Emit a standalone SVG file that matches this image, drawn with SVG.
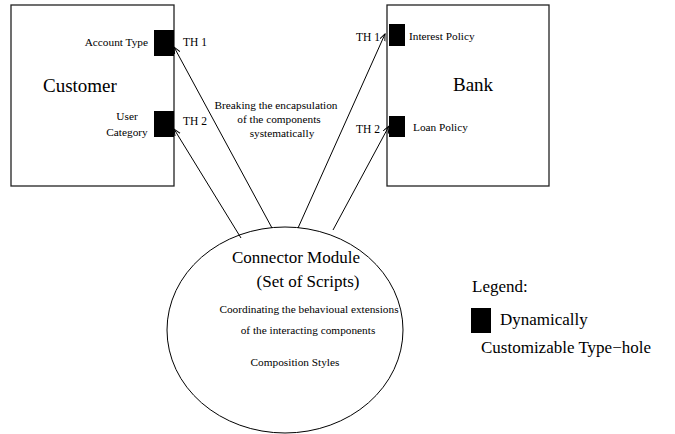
<svg xmlns="http://www.w3.org/2000/svg" width="675" height="434" viewBox="0 0 675 434" font-family="'Liberation Serif', 'Times New Roman', 'DejaVu Serif', serif">
<defs>
<style>
.box{fill:#fff;stroke:#222;stroke-width:1.3}
.hole{fill:#000}
.s{font-size:11.3px}
.th{font-size:11.5px}
.big{font-size:19px}
.mid{font-size:17px}
.conn{stroke:#000;stroke-width:1;fill:none;marker-end:url(#ah)}
</style>
<marker id="ah" markerWidth="8" markerHeight="8" refX="7" refY="3" orient="auto" markerUnits="userSpaceOnUse">
<path d="M0,0 L7,3 L0,6" fill="none" stroke="#000" stroke-width="1"/>
</marker>
</defs>
<rect width="675" height="434" fill="#fff"/>
<g id="customer">
<rect class="box" x="11" y="5" width="163" height="181"/>
<text class="big" x="43" y="92">Customer</text>
<rect class="hole" x="154" y="30" width="20" height="26"/>
<text class="s" x="148" y="46" text-anchor="end">Account Type</text>
<rect class="hole" x="154" y="111" width="20" height="26"/>
<text class="s" x="127" y="120" text-anchor="middle">User</text>
<text class="s" x="127" y="136" text-anchor="middle">Category</text>
<text class="th" x="183" y="46">TH 1</text>
<text class="th" x="183" y="125">TH 2</text>
</g>
<g id="bank">
<rect class="box" x="387" y="5" width="162" height="181"/>
<text class="big" x="453" y="91">Bank</text>
<rect class="hole" x="389" y="24" width="16" height="22"/>
<text class="s" x="409" y="40">Interest Policy</text>
<rect class="hole" x="389" y="116" width="16" height="21"/>
<text class="s" x="413" y="131">Loan Policy</text>
<text class="th" x="356" y="41">TH 1</text>
<text class="th" x="356" y="133">TH 2</text>
</g>
<g id="connector-module">
<ellipse cx="285" cy="330" rx="118" ry="103" fill="#fff" stroke="#000" stroke-width="1"/>
<text class="mid" x="296" y="263" text-anchor="middle">Connector Module</text>
<text class="mid" x="308" y="287" text-anchor="middle">(Set of Scripts)</text>
<text class="s" x="309" y="313" text-anchor="middle">Coordinating the behavioual extensions</text>
<text class="s" x="308" y="334" text-anchor="middle">of the interacting components</text>
<text class="s" x="295" y="366" text-anchor="middle">Composition Styles</text>
</g>
<g id="connectors">
<line class="conn" x1="272" y1="228" x2="174" y2="47"/>
<line class="conn" x1="241" y1="238" x2="174" y2="129"/>
<line class="conn" x1="298" y1="228" x2="385" y2="34"/>
<line class="conn" x1="333" y1="230" x2="389" y2="126"/>
</g>
<g id="annotation">
<text class="s" x="276" y="109" text-anchor="middle">Breaking the encapsulation</text>
<text class="s" x="279" y="123" text-anchor="middle">of the components</text>
<text class="s" x="282" y="137" text-anchor="middle">systematically</text>
</g>
<g id="legend">
<text class="mid" x="472" y="292">Legend:</text>
<rect class="hole" x="471" y="308" width="20" height="25"/>
<text class="mid" x="500" y="325">Dynamically</text>
<text class="mid" x="481" y="353">Customizable Type−hole</text>
</g>
</svg>
